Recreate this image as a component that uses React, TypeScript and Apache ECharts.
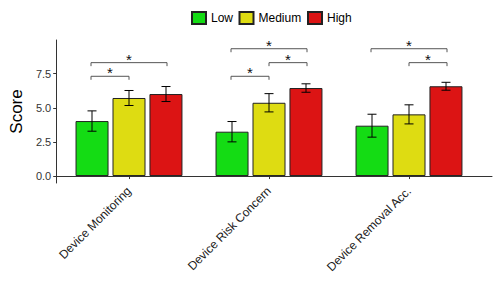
import React, { useEffect, useRef } from "react";
import * as echarts from "echarts";

const categories = ["Device Monitoring", "Device Risk Concern", "Device Removal Acc."];
const groups = ["Low", "Medium", "High"];
const lowMean = [4.03, 3.25, 3.69];
const lowErr = [0.745, 0.745, 0.84];
const medMean = [5.72, 5.37, 4.52];
const medErr = [0.55, 0.67, 0.7];
const highMean = [6.01, 6.45, 6.58];
const highErr = [0.55, 0.31, 0.29];
const yTicks = [0, 2.5, 5, 7.5];
// [category index, from group, to group, bracket height, label]
const brackets: [number, number, number, number, string][] = [
  [0, 0, 1, 7.31, "*"],
  [0, 0, 2, 8.31, "*"],
  [1, 0, 1, 7.31, "*"],
  [1, 1, 2, 8.31, "*"],
  [1, 0, 2, 9.33, "*"],
  [2, 1, 2, 8.31, "*"],
  [2, 0, 2, 9.33, "*"],
];

const colors = ["#14dc14", "#dedc12", "#dc1414"];
const FONT = "Liberation Sans, Arial, sans-serif";
const legendLefts = [191, 238.5, 307];

export default function App() {
  const ref = useRef<HTMLDivElement>(null);
  useEffect(() => {
    if (!ref.current) return;
    const chart = echarts.init(ref.current, null, { renderer: "svg" });
    const means = [lowMean, medMean, highMean];
    const errs = [lowErr, medErr, highErr];
    const errData: number[][] = [];
    means.forEach((m, s) =>
      m.forEach((v, c) => errData.push([c, v - errs[s][c], v + errs[s][c], s]))
    );
    const step = 37;
    const brStep = 38;
    const yMin = -0.51;
    const yMax = 9.97;
    chart.setOption({
      animation: false,
      textStyle: { fontFamily: FONT },
      legend: groups.map((g, i) => ({
        left: legendLefts[i],
        top: 11,
        padding: 0,
        icon: "rect",
        itemWidth: 14,
        itemHeight: 12,
        data: [g],
        textStyle: { fontSize: 12, color: "#000", fontFamily: FONT },
      })),
      grid: [
        { left: 45, right: 6, top: 40, bottom: 102 },
        { left: 59, right: 19, top: 40, bottom: 102 },
      ],
      xAxis: [
        {
          type: "value",
          gridIndex: 0,
          min: 0,
          max: 1,
          axisLine: { show: true, lineStyle: { color: "#333", width: 1 } },
          axisTick: { show: false },
          axisLabel: { show: false },
          splitLine: { show: false },
        },
        {
          type: "category",
          gridIndex: 1,
          data: categories,
          axisLine: { show: false },
          axisTick: { show: true, alignWithLabel: true, length: 3, lineStyle: { color: "#333" } },
          axisLabel: {
            rotate: 45,
            fontSize: 12,
            color: "#1a1a1a",
            margin: 6,
            fontFamily: FONT,
          },
        },
      ],
      yAxis: [
        {
          type: "value",
          gridIndex: 0,
          min: yMin,
          max: yMax,
          name: "Score",
          nameLocation: "middle",
          nameRotate: 90,
          nameGap: 28,
          nameTextStyle: { fontSize: 17, color: "#000", fontFamily: FONT },
          axisLine: { show: true, lineStyle: { color: "#333", width: 1 } },
          axisTick: { show: true, length: 3, customValues: yTicks, lineStyle: { color: "#333" } },
          axisLabel: {
            customValues: yTicks,
            fontSize: 11,
            color: "#333",
            margin: 5,
            fontFamily: FONT,
            formatter: (v: number) => v.toFixed(1),
          },
          splitLine: { show: false },
        },
        {
          type: "value",
          gridIndex: 1,
          min: yMin,
          max: yMax,
          show: false,
          splitLine: { show: false },
        },
      ],
      series: [
        ...groups.map((g, s) => ({
          name: g,
          type: "bar",
          xAxisIndex: 1,
          yAxisIndex: 1,
          barWidth: 33,
          barGap: "12%",
          data: means[s],
          itemStyle: { color: colors[s], borderColor: "#222", borderWidth: 1 },
        })),
        {
          type: "custom",
          xAxisIndex: 1,
          yAxisIndex: 1,
          data: errData,
          z: 10,
          renderItem: (params: any, api: any) => {
            const c = api.value(0);
            const s = api.value(3);
            const p1 = api.coord([c, api.value(1)]);
            const p2 = api.coord([c, api.value(2)]);
            const x = p1[0] + (s - 1) * step;
            const hw = 4.5;
            const st = { stroke: "#000", lineWidth: 1 };
            return {
              type: "group",
              children: [
                { type: "line", shape: { x1: x, y1: p1[1], x2: x, y2: p2[1] }, style: st },
                { type: "line", shape: { x1: x - hw, y1: p1[1], x2: x + hw, y2: p1[1] }, style: st },
                { type: "line", shape: { x1: x - hw, y1: p2[1], x2: x + hw, y2: p2[1] }, style: st },
              ],
            };
          },
        },
        {
          type: "custom",
          xAxisIndex: 1,
          yAxisIndex: 1,
          data: brackets,
          z: 10,
          renderItem: (params: any, api: any) => {
            const c = api.value(0);
            const a = api.value(1);
            const b = api.value(2);
            const p = api.coord([c, api.value(3)]);
            const x1 = p[0] + (a - 1) * brStep;
            const x2 = p[0] + (b - 1) * brStep;
            const y = p[1];
            const st = { stroke: "#555", lineWidth: 1 };
            const label = brackets[params.dataIndex][4];
            return {
              type: "group",
              children: [
                { type: "polyline", shape: { points: [[x1, y + 3.5], [x1, y], [x2, y], [x2, y + 3.5]] }, style: { ...st, fill: null } },
                {
                  type: "text",
                  style: {
                    text: label,
                    x: (x1 + x2) / 2,
                    y: y + 4,
                    align: "center",
                    verticalAlign: "bottom",
                    fontSize: 15,
                    fill: "#111",
                    fontFamily: FONT,
                  },
                },
              ],
            };
          },
        },
      ],
    });
    return () => chart.dispose();
  }, []);
  return <div ref={ref} style={{ width: 498, height: 285, position: "absolute", left: 0, top: 0 }} />;
}
